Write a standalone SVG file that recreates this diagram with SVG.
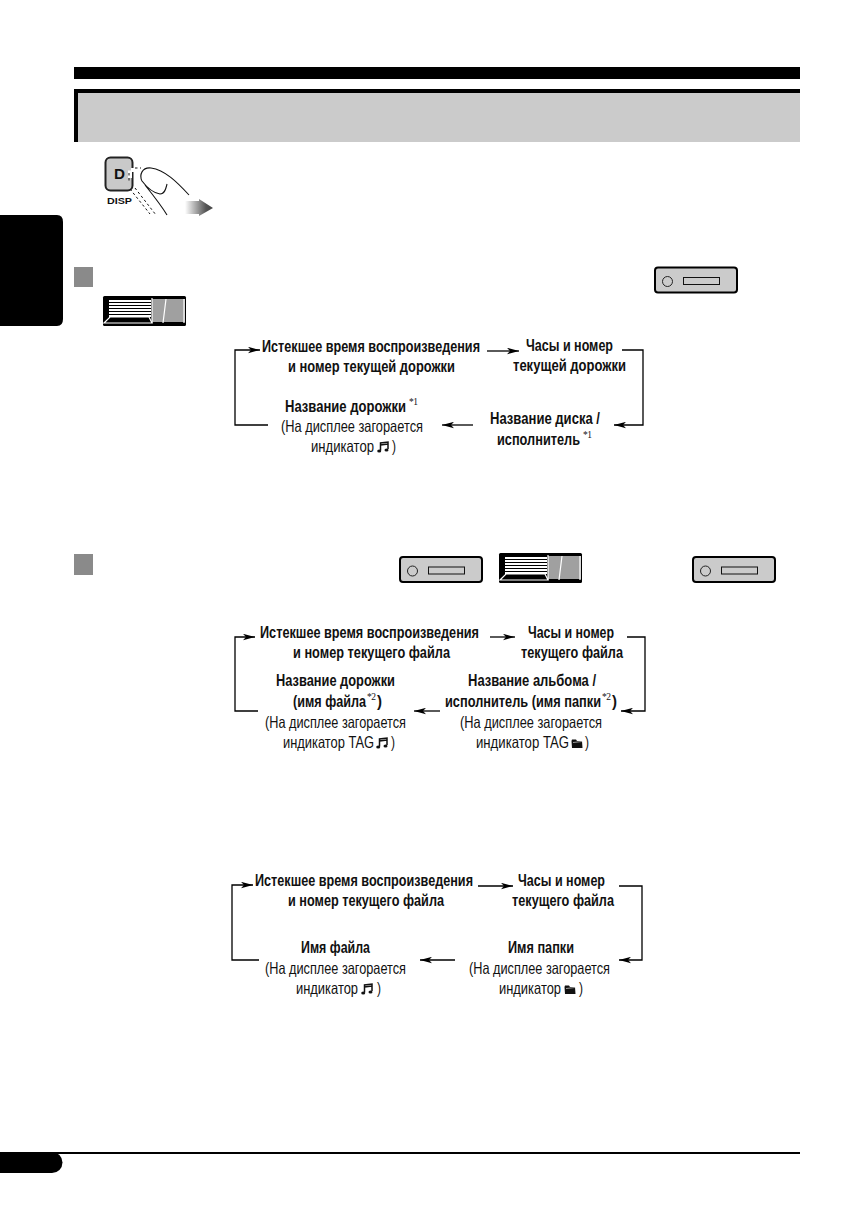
<svg xmlns="http://www.w3.org/2000/svg" width="854" height="1207" viewBox="0 0 854 1207">
<style>
text{font-family:"Liberation Sans Narrow","Liberation Sans",Arial,sans-serif;fill:#111}
.b{font-weight:bold;font-size:16.5px}
.r{font-size:16.5px}
.s{font-family:"Liberation Serif",serif;font-size:9.500px}
.c{fill:none;stroke:#000;stroke-width:1.3}
</style>
<defs>
<marker id="a" markerUnits="userSpaceOnUse" markerWidth="13" markerHeight="7" refX="12" refY="3.500" orient="auto"><path d="M0 0.300L12 3.500L0 6.700L3 3.500Z" fill="#000"/></marker>
<linearGradient id="g" x1="0" x2="1" y1="0" y2="0"><stop offset="0" stop-color="#fff"/><stop offset="0.75" stop-color="#555"/><stop offset="1" stop-color="#444"/></linearGradient>
<g id="recv"><rect x="1" y="1" width="82" height="25" rx="3" fill="#cbcbcb" stroke="#000" stroke-width="2"/><circle cx="13.500" cy="15" r="5" fill="#cbcbcb" stroke="#222" stroke-width="1"/><rect x="29.500" y="11" width="36" height="7" fill="#cbcbcb" stroke="#111" stroke-width="1"/></g>
<g id="cart"><rect x="0" y="0" width="83" height="30" rx="1.500" fill="#000"/><rect x="6" y="4" width="42" height="17" fill="#fff"/><path d="M6 6.500H48M6 9.500H48M6 12.500H48M6 15.500H48M6 18.500H48" stroke="#000" stroke-width="1.200"/><path d="M1 27H49L46 21H7Z" fill="#000" stroke="#fff" stroke-width="1.200"/><rect x="49" y="3" width="33" height="23" fill="#a0a0a0"/><path d="M49 2V27M63 3L60 27M81 3V27" stroke="#fff" stroke-width="1.200" fill="none"/></g>
<g id="note"><path d="M3.500 9.500V2L11 1V8M3.500 4L11 3" fill="none" stroke="#111" stroke-width="1.500"/><ellipse cx="2.200" cy="10" rx="2" ry="1.600" fill="#111"/><ellipse cx="9.500" cy="9" rx="2" ry="1.600" fill="#111"/></g>
<g id="folder"><path d="M0.500 3L1 1.500H5L6 3H11L11.500 10H1Z" fill="#111"/><path d="M2 4.500L11 3.500" stroke="#fff" stroke-width="0.600"/></g>
</defs>
<rect width="854" height="1207" fill="#fff"/>
<g id="header">
<rect x="74" y="67" width="726" height="12" fill="#000"/>
<rect x="74" y="89" width="726" height="53" fill="#000"/>
<rect x="78" y="93" width="722" height="49" fill="#cbcbcb"/>
</g>
<g id="side-tab"><path d="M0 215H57Q63 215 63 222V319Q63 326 57 326H0Z" fill="#000"/></g>
<g id="footer">
<path d="M0 1152H52A10.500 10.500 0 0 1 52 1173H0Z" fill="#000"/>
<rect x="50" y="1152" width="750" height="2" fill="#000"/>
</g>
<g id="disp-button">
<rect x="105.500" y="157.500" width="27" height="33" rx="5" fill="#c9c9c9" stroke="#222" stroke-width="2"/>
<path d="M130 170.500V178M133 168V172" stroke="#fff" stroke-width="4"/>
<text x="114" y="179" textLength="11" lengthAdjust="spacingAndGlyphs" style="font-family:'Liberation Sans',sans-serif;font-size:14px;font-weight:bold">D</text>
<text x="107" y="203.500" textLength="25" lengthAdjust="spacingAndGlyphs" style="font-family:'Liberation Sans',sans-serif;font-size:9px;font-weight:bold">DISP</text>
<path d="M135 168H141M129 173V182M135 188L156 215M130 189L150 214" fill="none" stroke="#111" stroke-width="1" stroke-dasharray="2.500 2.500"/>
<path d="M189 195C177 182 165 170 151 168C142 167 139 175 142 181C148 189 154 193 160 194C165 194 166 188 167 184M145 185C153 195 161 205 167 215" fill="none" stroke="#111" stroke-width="1.100"/>
<path d="M185 201H199V199L213 208L199 216V214H185Z" fill="url(#g)"/>
</g>
<g id="section-markers">
<rect x="74" y="267" width="19" height="20" fill="#8a8a8a"/>
<rect x="74" y="554" width="19" height="21" fill="#8a8a8a"/>
</g>
<g id="icons">
<use href="#recv" x="654" y="266.500"/>
<use href="#cart" x="103" y="296"/>
<use href="#recv" x="399" y="556"/>
<use href="#cart" x="499" y="553"/>
<use href="#recv" x="692" y="556"/>
</g>
<g id="connectors">
<path class="c" marker-end="url(#a)" d="M268 425H235V350H260"/>
<path class="c" marker-end="url(#a)" d="M487 351H519"/>
<path class="c" marker-end="url(#a)" d="M622 350H643V425H614"/>
<path class="c" marker-end="url(#a)" d="M473 425H442"/>
<path class="c" marker-end="url(#a)" d="M258 711H235V637H255"/>
<path class="c" marker-end="url(#a)" d="M490 637H515"/>
<path class="c" marker-end="url(#a)" d="M627 637H645V711H621"/>
<path class="c" marker-end="url(#a)" d="M440 711H414"/>
<path class="c" marker-end="url(#a)" d="M259 960H232V885H253"/>
<path class="c" marker-end="url(#a)" d="M478 886H513"/>
<path class="c" marker-end="url(#a)" d="M619 886H642V960H619"/>
<path class="c" marker-end="url(#a)" d="M455 960H420"/>
</g>
<g id="n1-elapsed"><text class="b" x="262" y="352" textLength="218" lengthAdjust="spacingAndGlyphs">Истекшее время воспроизведения</text><text class="b" x="288" y="372" textLength="167" lengthAdjust="spacingAndGlyphs">и номер текущей дорожки</text></g>
<g id="n1-clock"><text class="b" x="526" y="351" textLength="87" lengthAdjust="spacingAndGlyphs">Часы и номер</text><text class="b" x="513" y="371" textLength="113" lengthAdjust="spacingAndGlyphs">текущей дорожки</text></g>
<g id="n1-track"><text class="b" x="285" y="411.500" textLength="121" lengthAdjust="spacingAndGlyphs">Название дорожки</text><text class="s" x="409" y="405" textLength="9">*1</text><text class="r" x="281" y="431.500" textLength="142" lengthAdjust="spacingAndGlyphs">(На дисплее загорается</text><text class="r" x="311" y="452" textLength="63" lengthAdjust="spacingAndGlyphs">индикатор</text><use href="#note" x="377" y="441"/><text class="r" x="392" y="452" textLength="4" lengthAdjust="spacingAndGlyphs">)</text></g>
<g id="n1-disc"><text class="b" x="490" y="424" textLength="110" lengthAdjust="spacingAndGlyphs">Название диска /</text><text class="b" x="497" y="445" textLength="83" lengthAdjust="spacingAndGlyphs">исполнитель</text><text class="s" x="583" y="438" textLength="9">*1</text></g>
<g id="n2-elapsed"><text class="b" x="260" y="638" textLength="219" lengthAdjust="spacingAndGlyphs">Истекшее время воспроизведения</text><text class="b" x="293" y="658" textLength="157" lengthAdjust="spacingAndGlyphs">и номер текущего файла</text></g>
<g id="n2-clock"><text class="b" x="528" y="638" textLength="86" lengthAdjust="spacingAndGlyphs">Часы и номер</text><text class="b" x="521" y="658" textLength="102" lengthAdjust="spacingAndGlyphs">текущего файла</text></g>
<g id="n2-track"><text class="b" x="276" y="686" textLength="119" lengthAdjust="spacingAndGlyphs">Название дорожки</text><text class="b" x="293" y="707" textLength="73" lengthAdjust="spacingAndGlyphs">(имя файла</text><text class="s" x="367" y="699.500" textLength="9">*2</text><text class="b" x="377" y="707" textLength="5" lengthAdjust="spacingAndGlyphs">)</text><text class="r" x="265" y="728" textLength="141" lengthAdjust="spacingAndGlyphs">(На дисплее загорается</text><text class="r" x="283" y="748" textLength="91" lengthAdjust="spacingAndGlyphs">индикатор TAG</text><use href="#note" x="376" y="737"/><text class="r" x="391" y="748" textLength="4" lengthAdjust="spacingAndGlyphs">)</text></g>
<g id="n2-album"><text class="b" x="468" y="686" textLength="128" lengthAdjust="spacingAndGlyphs">Название альбома /</text><text class="b" x="445" y="707" textLength="156" lengthAdjust="spacingAndGlyphs">исполнитель (имя папки</text><text class="s" x="602" y="699.500" textLength="9">*2</text><text class="b" x="612" y="707" textLength="5" lengthAdjust="spacingAndGlyphs">)</text><text class="r" x="460" y="728" textLength="142" lengthAdjust="spacingAndGlyphs">(На дисплее загорается</text><text class="r" x="476" y="748" textLength="93" lengthAdjust="spacingAndGlyphs">индикатор TAG</text><use href="#folder" x="571" y="738"/><text class="r" x="585" y="748" textLength="4" lengthAdjust="spacingAndGlyphs">)</text></g>
<g id="n3-elapsed"><text class="b" x="255" y="886" textLength="218" lengthAdjust="spacingAndGlyphs">Истекшее время воспроизведения</text><text class="b" x="288" y="906" textLength="156" lengthAdjust="spacingAndGlyphs">и номер текущего файла</text></g>
<g id="n3-clock"><text class="b" x="518" y="886" textLength="87" lengthAdjust="spacingAndGlyphs">Часы и номер</text><text class="b" x="512" y="906" textLength="102" lengthAdjust="spacingAndGlyphs">текущего файла</text></g>
<g id="n3-file"><text class="b" x="301" y="953" textLength="69" lengthAdjust="spacingAndGlyphs">Имя файла</text><text class="r" x="265" y="974" textLength="141" lengthAdjust="spacingAndGlyphs">(На дисплее загорается</text><text class="r" x="296" y="994" textLength="62" lengthAdjust="spacingAndGlyphs">индикатор</text><use href="#note" x="361" y="983"/><text class="r" x="377" y="994" textLength="4" lengthAdjust="spacingAndGlyphs">)</text></g>
<g id="n3-folder"><text class="b" x="508" y="953" textLength="66" lengthAdjust="spacingAndGlyphs">Имя папки</text><text class="r" x="469" y="974" textLength="141" lengthAdjust="spacingAndGlyphs">(На дисплее загорается</text><text class="r" x="499" y="994" textLength="62" lengthAdjust="spacingAndGlyphs">индикатор</text><use href="#folder" x="564" y="984"/><text class="r" x="579" y="994" textLength="4" lengthAdjust="spacingAndGlyphs">)</text></g>
</svg>
